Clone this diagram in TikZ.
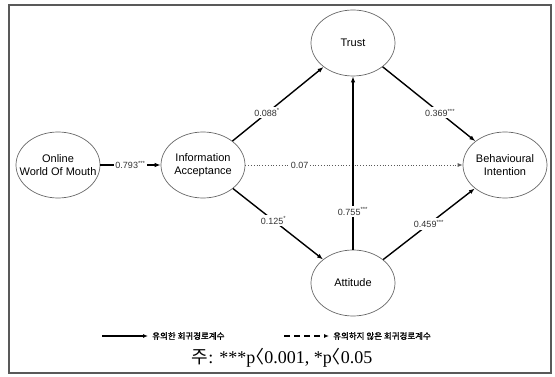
\documentclass[tikz,border=0pt]{standalone}
\usepackage{fontspec}
\setmainfont{Liberation Sans}
\newfontfamily\serifl{Liberation Serif}
\newfontfamily\kr{Noto Sans CJK KR}
\newfontfamily\krb[FakeBold=1.5]{Noto Sans CJK KR}
\usetikzlibrary{shapes.geometric,arrows.meta}
\tikzset{
  construct/.style={ellipse,draw=gray!80!black,line width=0.7pt,minimum width=84pt,minimum height=66pt,inner xsep=-12pt,inner ysep=0pt,align=center,font=\fontsize{11}{12.5}\selectfont},
  path/.style={line width=1.4pt,-{Latex[length=6pt,width=4.5pt]}},
  nspath/.style={line width=0.8pt,gray!70!black,dotted,-{Latex[length=5pt,width=4pt]}},
  coef/.style={fill=white,inner sep=1.5pt,text=gray!40!black,font=\fontsize{9}{10}\selectfont},
}
\begin{document}
\begin{tikzpicture}[x=1pt,y=-1pt]
\useasboundingbox (0,0) rectangle (555,377);
\draw[gray!70!black,line width=1.2pt] (9,5) rectangle (551,373);
\node[construct] (owm) at (58,165) {Online\\World Of Mouth};
\node[construct] (ia) at (203,165) {Information\\Acceptance};
\node[construct] (tr) at (353,43) {Trust};
\node[construct] (at) at (353,283) {Attitude};
\node[construct] (bi) at (505,165) {Behavioural\\Intention};
\draw[path] (owm) -- node[coef] {0.793\textsuperscript{***}} (ia);
\draw[path] (ia) -- node[coef,pos=0.38] {0.088\textsuperscript{*}} (tr);
\draw[path] (tr) -- node[coef,pos=0.62] {0.369\textsuperscript{***}} (bi);
\draw[nspath] (ia) -- node[coef,pos=0.25] {0.07} (bi);
\draw[path] (ia) -- node[coef,pos=0.45] {0.125\textsuperscript{*}} (at);
\draw[path] (at) -- node[coef,pos=0.22] {0.755\textsuperscript{***}} (tr);
\draw[path] (at) -- node[coef,pos=0.5] {0.459\textsuperscript{***}} (bi);
\coordinate (l1a) at (102,336);
\coordinate (l1b) at (148,336);
\coordinate (l2a) at (284,336);
\coordinate (l2b) at (329,336);
\draw[line width=1.2pt,-{Latex[length=5pt,width=4pt]}] (l1a) -- (l1b);
\draw[line width=1.2pt,dash pattern=on 6pt off 4pt,-{Latex[length=5pt,width=4pt]}] (l2a) -- (l2b);
\node[anchor=west,inner sep=0pt,font=\krb\fontsize{8.5}{9}\selectfont] (leg1) at (152,336) {유의한 회귀경로계수};
\node[anchor=west,inner sep=0pt,font=\krb\fontsize{8.5}{9}\selectfont] (leg2) at (333,336) {유의하지 않은 회귀경로계수};
\node[inner sep=0pt,font=\fontsize{18}{20}\selectfont] (note) at (282,358) {{\kr 주}\serifl: ***p\kern-0.5em{\kr 〈}0.001, *p\kern-0.5em{\kr 〈}0.05};
\end{tikzpicture}
\end{document}
